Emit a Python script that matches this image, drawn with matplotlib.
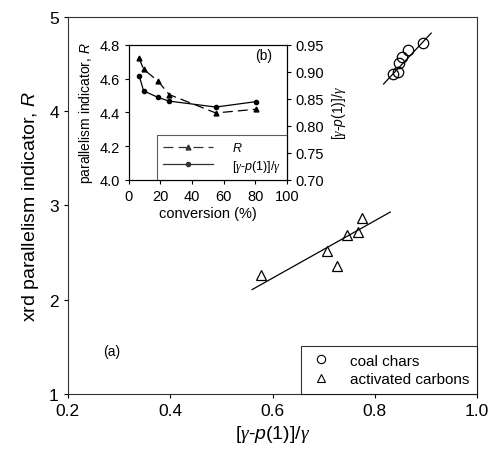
import matplotlib
matplotlib.use("Agg")
import matplotlib.pyplot as plt
import numpy as np

plt.rcParams['font.family'] = ['Liberation Sans', 'DejaVu Sans']
plt.rcParams['mathtext.fontset'] = 'custom'
plt.rcParams['mathtext.rm'] = 'Liberation Sans'
plt.rcParams['mathtext.it'] = 'Liberation Sans:italic'
plt.rcParams['mathtext.cal'] = 'Liberation Serif:italic'

# main panel (a)
coal_x = [0.835, 0.845, 0.848, 0.853, 0.865, 0.894]
coal_y = [4.40, 4.42, 4.51, 4.58, 4.65, 4.72]
coal_fit_x = [0.817, 0.91]
coal_fit_y = [4.29, 4.83]

act_x = [0.578, 0.706, 0.725, 0.745, 0.766, 0.774]
act_y = [2.26, 2.52, 2.355, 2.685, 2.715, 2.865]
act_fit_x = [0.560, 0.830]
act_fit_y = [2.107, 2.93]

# inset panel (b)
conv = [6.5, 9.3, 18.3, 25.5, 55, 80.4]
r_vals = [4.72, 4.656, 4.587, 4.506, 4.397, 4.419]
gp_vals = [0.893, 0.865, 0.853, 0.846, 0.835, 0.845]

GP = r'[$\mathcal{\gamma}$-$p$(1)]/$\mathcal{\gamma}$'

fig = plt.figure(figsize=(4.92, 4.64), dpi=100)
ax = fig.add_axes([0.138, 0.149, 0.832, 0.812])

ax.plot(coal_fit_x, coal_fit_y, color='black', lw=0.9)
ax.plot(act_fit_x, act_fit_y, color='black', lw=0.9)
ax.plot(coal_x, coal_y, 'o', mfc='none', mec='black', ms=7.5, mew=0.9)
ax.plot(act_x, act_y, '^', mfc='none', mec='black', ms=7.5, mew=0.9)

ax.set_xlim(0.2, 1.0)
ax.set_ylim(1, 5)
ax.set_xticks([0.2, 0.4, 0.6, 0.8, 1.0])
ax.set_xticklabels(['0.2', '0.4', '0.6', '0.8', '1.0'])
ax.set_yticks([1, 2, 3, 4, 5])
ax.tick_params(direction='out', length=3, labelsize=12.5, width=0.8)
for s in ax.spines.values():
    s.set_color('#333333')
ax.set_xlabel(GP, fontsize=14, labelpad=4)
ax.set_ylabel(r'xrd parallelism indicator, $R$', fontsize=14, labelpad=6)
ax.text(0.286, 1.45, '(a)', fontsize=10, ha='center', va='center')

h1, = ax.plot([], [], 'o', mfc='none', mec='black', ms=6, mew=0.8)
h2, = ax.plot([], [], '^', mfc='none', mec='black', ms=6, mew=0.8)
leg = ax.legend([h1, h2], ['coal chars', 'activated carbons'], loc='lower right',
                fontsize=11, frameon=True, fancybox=False, borderaxespad=0,
                handlelength=1.6, handletextpad=1.1, borderpad=0.5, labelspacing=0.3)
leg.get_frame().set_edgecolor('black')
leg.get_frame().set_linewidth(0.8)

# inset
ins = fig.add_axes([0.262, 0.610, 0.321, 0.291])
ins.plot(conv, r_vals, color='black', lw=0.9, ls=(0, (8, 4)), marker='^', ms=3.5)
ins.set_xlim(0, 100)
ins.set_ylim(4.0, 4.8)
ins.set_xticks([0, 20, 40, 60, 80, 100])
ins.set_yticks([4.0, 4.2, 4.4, 4.6, 4.8])
ins.set_yticklabels(['4.0', '4.2', '4.4', '4.6', '4.8'])
ins.tick_params(direction='out', length=3, labelsize=10.5, width=0.8)
ins.set_xlabel('conversion (%)', fontsize=10.5, labelpad=2)
ins.set_ylabel(r'parallelism indicator, $R$', fontsize=10, labelpad=3)

ins2 = ins.twinx()
ins2.plot(conv, gp_vals, color='black', lw=0.9, marker='o', ms=3)
ins2.set_ylim(0.70, 0.95)
ins2.set_yticks([0.70, 0.75, 0.80, 0.85, 0.90, 0.95])
ins2.set_yticklabels(['0.70', '0.75', '0.80', '0.85', '0.90', '0.95'])
ins2.tick_params(direction='out', length=3, labelsize=10.5, width=0.8)
ins2.set_ylabel(GP, fontsize=10, labelpad=4)
ins.text(91, 4.74, '(b)', fontsize=10, ha='right', va='center')

l1, = ins.plot([], [], color='#333333', lw=0.9, ls=(0, (8, 4)), marker='^', ms=3.5)
l2, = ins.plot([], [], color='#333333', lw=0.9, marker='o', ms=3)
leg2 = ins.legend([l1, l2], [r'$R$', GP], loc='lower right', fontsize=9,
                  frameon=True, fancybox=False, borderaxespad=0,
                  handlelength=4.0, handletextpad=1.5, borderpad=0.5, labelspacing=0.3)
leg2.get_frame().set_edgecolor('#333333')
leg2.get_frame().set_linewidth(0.8)

fig.savefig('out.png', dpi=100)
